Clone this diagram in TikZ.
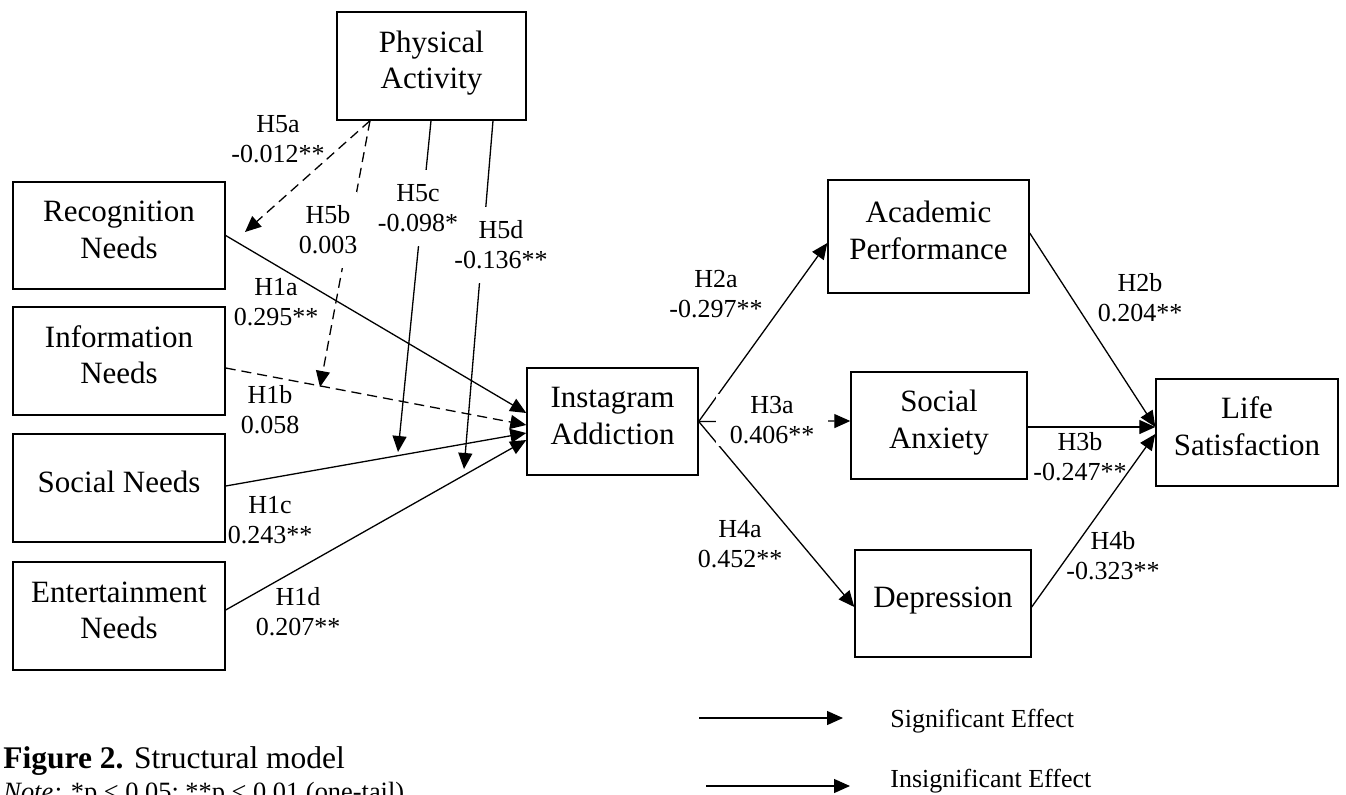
\documentclass[tikz,border=0pt]{standalone}
\usepackage{fontspec}
\setmainfont{Liberation Serif}
\usetikzlibrary{arrows.meta}
\newcommand{\bxt}[1]{\raisebox{1.5pt}[\height][\depth]{\begin{tabular}{@{}c@{}}#1\end{tabular}}}
\begin{document}
\begin{tikzpicture}[x=0.5pt,y=-0.5pt,
  box/.style={draw, line width=0.7pt, inner sep=0pt, font=\fontsize{15.5pt}{18.3pt}\selectfont},
  lab/.style={font=\fontsize{13pt}{15pt}\selectfont, align=center, inner sep=1pt},
  onlab/.style={lab, fill=white, inner xsep=0pt, inner ysep=7pt},
  conn/.style={line width=0.65pt, -{Triangle[length=8pt,width=7pt]}},
  ins/.style={conn, dash pattern=on 5pt off 3pt}]
\useasboundingbox (0,0) rectangle (1346,794);
\clip (0,0) rectangle (1346,794);

% boxes
\node[box, minimum width=94.5pt, minimum height=54pt] (PA) at (431.5,66) {\bxt{Physical\\Activity}};
\node[box, minimum width=106pt, minimum height=53.5pt] (RN) at (119,235.5) {\bxt{Recognition\\Needs}};
\node[box, minimum width=106pt, minimum height=54pt] (IN) at (119,361) {\bxt{Information\\Needs}};
\node[box, minimum width=106pt, minimum height=54pt] (SN) at (119,488) {\bxt{Social Needs}};
\node[box, minimum width=106pt, minimum height=54pt] (EN) at (119,616) {\bxt{Entertainment\\Needs}};
\node[box, minimum width=85.5pt, minimum height=53.5pt] (IA) at (612.5,421.5) {\bxt{Instagram\\Addiction}};
\node[box, minimum width=100.5pt, minimum height=56.5pt] (AP) at (928.5,236.5) {\bxt{Academic\\Performance}};
\node[box, minimum width=88pt, minimum height=53.5pt] (SA) at (939,425.5) {\bxt{Social\\Anxiety}};
\node[box, minimum width=88pt, minimum height=53.5pt] (DE) at (943,603.5) {\bxt{Depression}};
\node[box, minimum width=91pt, minimum height=53.5pt] (LS) at (1247,432.5) {\bxt{Life\\Satisfaction}};

% left-side paths
\draw[conn] (RN.east) -- ([yshift=4.25pt]IA.west);
\draw[ins] ([yshift=-3.5pt]IN.east) -- ([yshift=-1.75pt]IA.west);
\draw[conn] ([yshift=1pt]SN.east) -- ([yshift=-5.75pt]IA.west);
\draw[conn] ([yshift=3pt]EN.east) -- ([yshift=-9.25pt]IA.west);

% moderation paths
\coordinate (t5a) at (245,232);
\coordinate (t5b) at (320,387);
\coordinate (t5c) at (398,452);
\coordinate (t5d) at (464,469);
\draw[ins] ([xshift=-30.75pt]PA.south) -- (t5a);
\draw[ins] ([xshift=-30.75pt]PA.south) -- (t5b);
\draw[conn] ([xshift=-0.25pt]PA.south) -- (t5c);
\draw[conn] ([xshift=30.75pt]PA.south) -- (t5d);

% right-side paths
\draw[conn] (IA.east) -- ([yshift=-3.25pt]AP.west);
\draw[conn] (IA.east) -- ([yshift=2.25pt]SA.west);
\draw[conn] (IA.east) -- ([yshift=-1.75pt]DE.west);
\draw[conn] ([yshift=1.75pt]AP.east) -- ([yshift=2.75pt]LS.west);
\draw[conn] ([yshift=-0.75pt]SA.east) -- ([yshift=2.75pt]LS.west);
\draw[conn] ([yshift=-1.75pt]DE.east) -- ([yshift=-0.75pt]LS.west);

% labels
\node[lab] (h5a) at (278,139) {H5a\\-0.012**};
\node[onlab] (h5d) at (501,245) {H5d\\-0.136**};
\node[onlab] (h5c) at (418,208) {H5c\\-0.098*};
\node[onlab] (h5b) at (328,230) {H5b\\0.003};
\node[lab] (h1a) at (276,302) {H1a\\0.295**};
\node[lab] (h1b) at (270,410) {H1b\\0.058};
\node[lab] (h1c) at (270,520) {H1c\\0.243**};
\node[lab] (h1d) at (298,612) {H1d\\0.207**};
\node[lab] (h2a) at (716,294) {H2a\\-0.297**};
\node[lab, fill=white, inner xsep=7pt, inner ysep=1pt] (h3a) at (772,420) {H3a\\0.406**};
\node[lab] (h4a) at (740,544) {H4a\\0.452**};
\node[lab] (h2b) at (1140,298) {H2b\\0.204**};
\node[lab] (h3b) at (1080,457) {H3b\\-0.247**};
\node[lab] (h4b) at (1113,556) {H4b\\-0.323**};

% legend
\coordinate (l1a) at (699,718); \coordinate (l1b) at (843,718);
\coordinate (l2a) at (706,786); \coordinate (l2b) at (850,786);
\draw[conn] (l1a) -- (l1b);
\draw[conn] (l2a) -- (l2b);
\node[lab, anchor=base west] (lt1) at (888,727) {Significant Effect};
\node[lab, anchor=base west] (lt2) at (888,787) {Insignificant Effect};

% caption
\node[anchor=base west, inner sep=0pt, font=\fontsize{15.75pt}{18pt}\selectfont] (cap) at (3,768) {\textbf{Figure 2.} Structural model};
\node[anchor=base west, inner sep=0pt, font=\fontsize{13.2pt}{15pt}\selectfont] (note) at (3,800) {\textit{Note:} *p < 0.05; **p < 0.01 (one-tail)};
\end{tikzpicture}
\end{document}
